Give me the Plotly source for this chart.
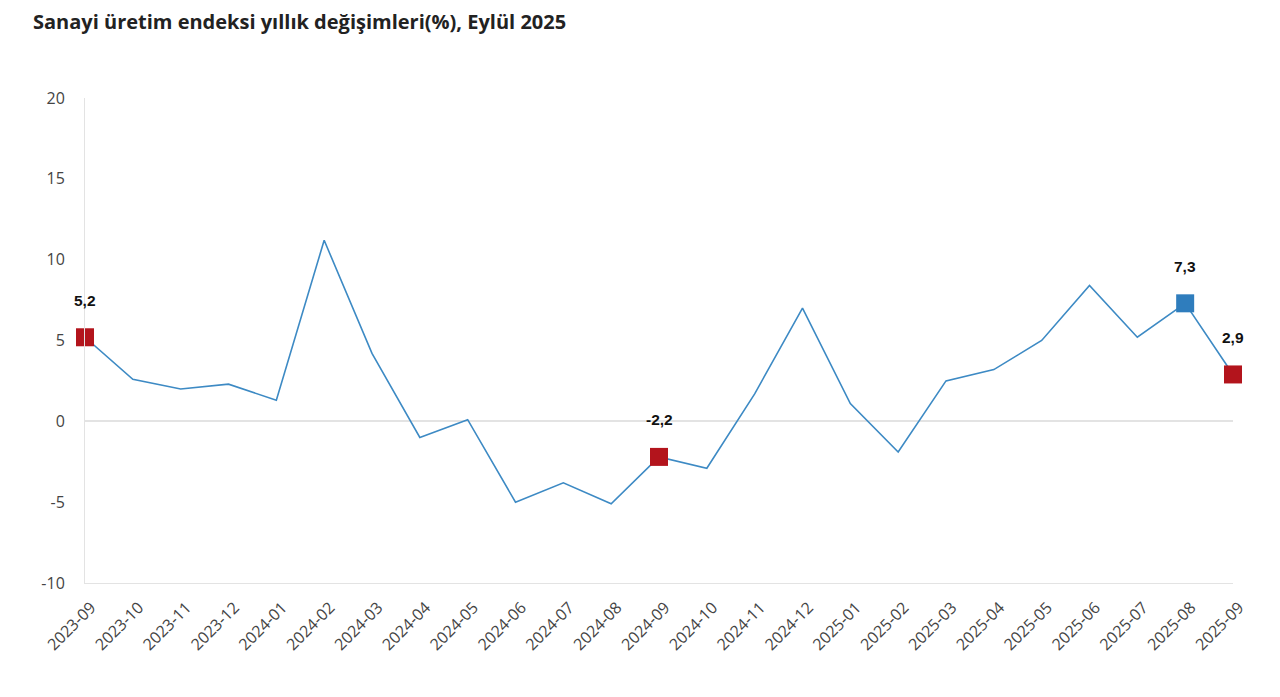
import plotly.graph_objects as go

months = ["2023-09", "2023-10", "2023-11", "2023-12", "2024-01", "2024-02", "2024-03",
          "2024-04", "2024-05", "2024-06", "2024-07", "2024-08", "2024-09", "2024-10",
          "2024-11", "2024-12", "2025-01", "2025-02", "2025-03", "2025-04", "2025-05",
          "2025-06", "2025-07", "2025-08", "2025-09"]
values = [5.2, 2.6, 2.0, 2.3, 1.3, 11.2, 4.2, -1.0, 0.1, -5.0, -3.8, -5.1, -2.2, -2.9,
          1.7, 7.0, 1.1, -1.9, 2.5, 3.2, 5.0, 8.4, 5.2, 7.3, 2.9]

red_months = ["2023-09", "2024-09", "2025-09"]
blue_months = ["2025-08"]
title = "Sanayi üretim endeksi yıllık değişimleri(%), Eylül 2025"
y_ticks = [-10, -5, 0, 5, 10, 15, 20]
y_tick_labels = ["-10", "-5", "0", "5", "10", "15", "20"]

val = dict(zip(months, values))

fig = go.Figure()
fig.add_trace(go.Scatter(x=months, y=values, mode="lines",
                         line=dict(color="#3d8ac4", width=1.6), hoverinfo="x+y",
                         showlegend=False))
fig.add_trace(go.Scatter(x=red_months, y=[val[m] for m in red_months], mode="markers",
                         marker=dict(symbol="square", size=18, color="#b3141c"),
                         showlegend=False, cliponaxis=False))
fig.add_trace(go.Scatter(x=blue_months, y=[val[m] for m in blue_months], mode="markers",
                         marker=dict(symbol="square", size=18, color="#2f7dbd"),
                         showlegend=False, cliponaxis=False))

for m in red_months + blue_months:
    fig.add_annotation(x=m, y=val[m],
                       text="<b>" + f"{val[m]:.1f}".replace(".", ",") + "</b>",
                       showarrow=False, yshift=37,
                       font=dict(family="Liberation Sans, Arial", size=15.5, color="#111111"))

fig.update_layout(
    width=1280, height=697,
    paper_bgcolor="white", plot_bgcolor="white",
    margin=dict(l=77, r=55, t=90, b=122),
    title=dict(text="<b>" + title + "</b>", x=25 / 1280, xanchor="left",
               y=1 - 14 / 697, yanchor="middle",
               font=dict(family="Open Sans", size=20, color="#222222")),
    xaxis=dict(type="category", categoryorder="array", categoryarray=months,
               range=[0, len(months) - 1], tickangle=-45, showgrid=False,
               showline=True, linecolor="#e3e3e3", linewidth=1, ticks="",
               ticklabelshift=6, ticklabelstandoff=8,
               tickfont=dict(family="Open Sans", size=16, color="#444444"), zeroline=False),
    yaxis=dict(range=[-10, 20], tickvals=y_ticks, ticktext=y_tick_labels,
               showgrid=False, zeroline=True,
               zerolinecolor="#e3e3e3", zerolinewidth=1.5, showline=True,
               linecolor="#e3e3e3", linewidth=1, ticks="", ticklabelstandoff=16,
               tickfont=dict(family="Open Sans", size=16, color="#444444")),
)

fig.write_html("out.html")
